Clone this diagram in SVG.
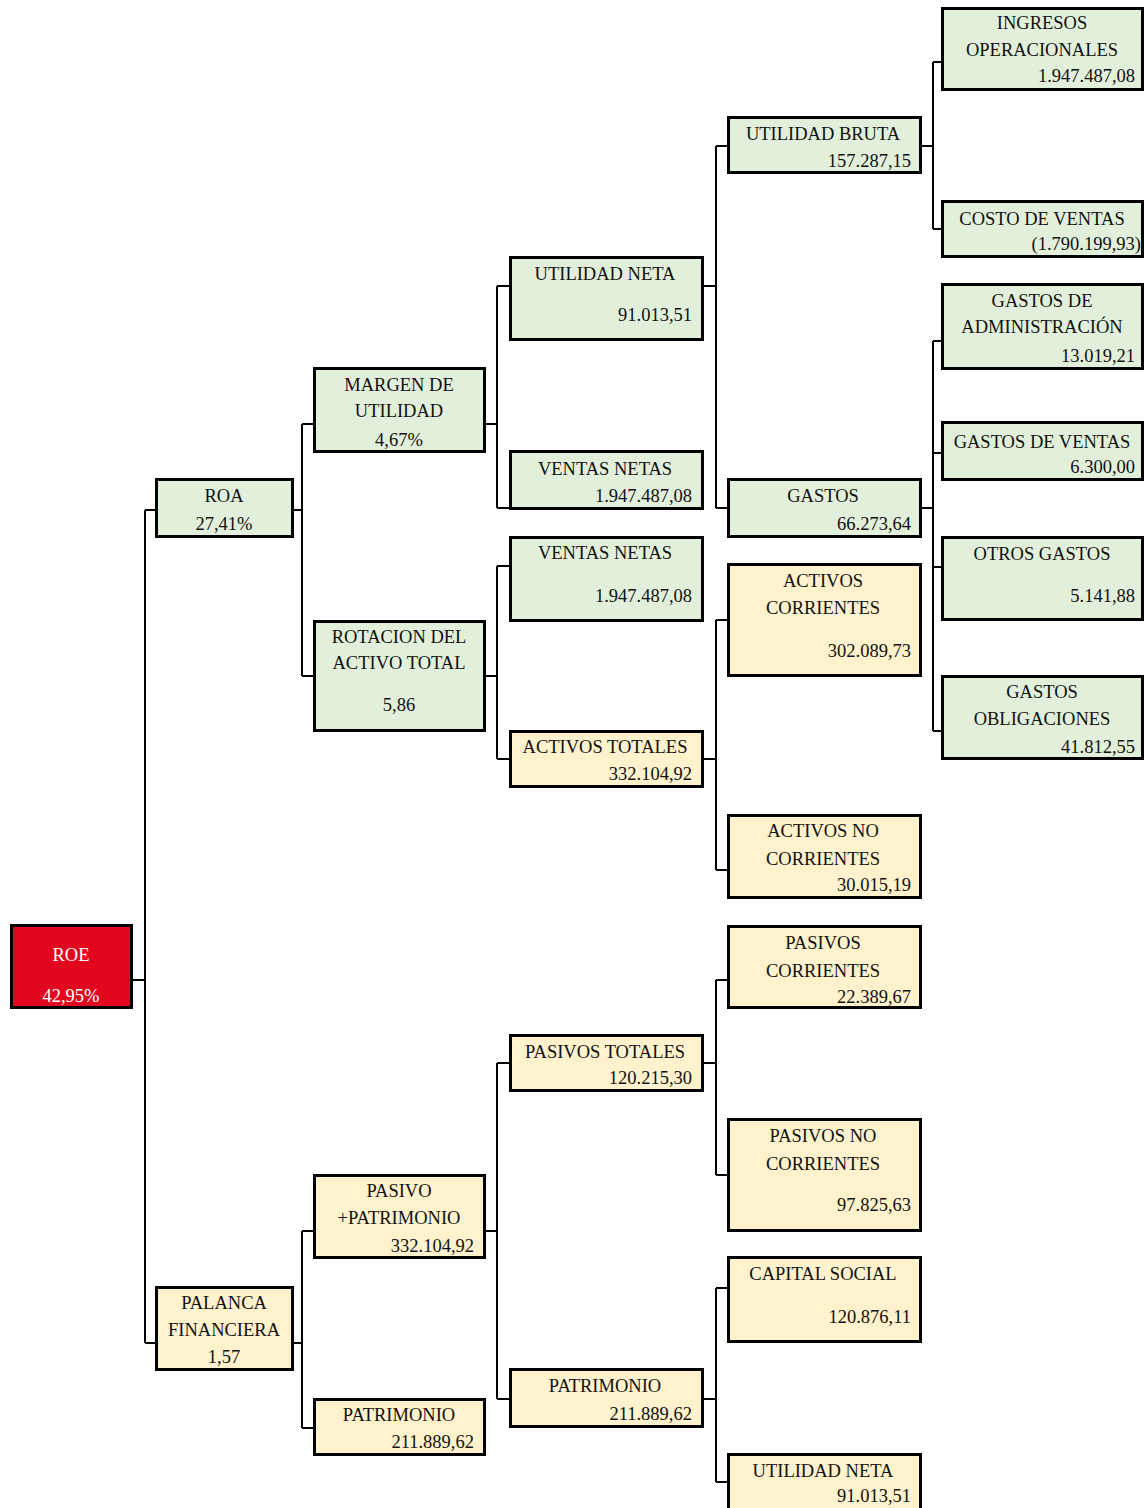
<svg xmlns="http://www.w3.org/2000/svg" width="1145" height="1508" viewBox="0 0 1145 1508">
<style>
.g{fill:#E2EFDA;stroke:#000;stroke-width:3}
.y{fill:#FFF2CC;stroke:#000;stroke-width:3}
.r{fill:#E2071F;stroke:#000;stroke-width:3}
text{font-family:"Liberation Serif","Times New Roman",serif;font-size:18.5px;fill:#111}
.c{text-anchor:middle}
.e{text-anchor:end}
.w{fill:#fff}
.ln{fill:none;stroke:#000;stroke-width:2}
</style>
<rect width="1145" height="1508" fill="#fff"/>
<g id="connectors" class="ln">
<path d="M133,980H145M145,510V1343M145,510H155M145,1343H155"/>
<path d="M294,510H302M302,424V676M302,424H313M302,676H313"/>
<path d="M486,424H497M497,286V508M497,286H509M497,508H509"/>
<path d="M486,676H497M497,566V759M497,566H509M497,759H509"/>
<path d="M704,286H716M716,146V508M716,146H727M716,508H727"/>
<path d="M704,759H716M716,620V870M716,620H727M716,870H727"/>
<path d="M922,146H933M933,62V229M933,62H941M933,229H941"/>
<path d="M922,508H933M933,341V731M933,341H941M933,453H941M933,567H941M933,731H941"/>
<path d="M294,1343H302M302,1231V1428M302,1231H313M302,1428H313"/>
<path d="M486,1231H497M497,1063V1399M497,1063H509M497,1399H509"/>
<path d="M704,1063H716M716,980V1175M716,980H727M716,1175H727"/>
<path d="M704,1399H716M716,1288V1482M716,1288H727M716,1482H727"/>
</g>
<g id="roe"><rect class="r" x="11.5" y="925.5" width="120" height="82"/><text class="c w" x="71" y="961">ROE</text><text class="c w" x="71" y="1002">42,95%</text></g>
<g id="roa"><rect class="g" x="156.5" y="479.5" width="136" height="57"/><text class="c" x="224" y="502">ROA</text><text class="c" x="224" y="530">27,41%</text></g>
<g id="palanca"><rect class="y" x="156.5" y="1287.5" width="136" height="82"/><text class="c" x="224" y="1309">PALANCA</text><text class="c" x="224" y="1336">FINANCIERA</text><text class="c" x="224" y="1363">1,57</text></g>
<g id="margen"><rect class="g" x="314.5" y="368.5" width="170" height="83"/><text class="c" x="399" y="391">MARGEN DE</text><text class="c" x="399" y="417">UTILIDAD</text><text class="c" x="399" y="446">4,67%</text></g>
<g id="rotacion"><rect class="g" x="314.5" y="621.5" width="170" height="109"/><text class="c" x="399" y="643">ROTACION DEL</text><text class="c" x="399" y="669">ACTIVO TOTAL</text><text class="c" x="399" y="711">5,86</text></g>
<g id="pasivo-patrimonio"><rect class="y" x="314.5" y="1175.5" width="170" height="82"/><text class="c" x="399" y="1197">PASIVO</text><text class="c" x="399" y="1224">+PATRIMONIO</text><text class="e" x="474" y="1252">332.104,92</text></g>
<g id="patrimonio-1"><rect class="y" x="314.5" y="1399.5" width="170" height="55"/><text class="c" x="399" y="1421">PATRIMONIO</text><text class="e" x="474" y="1448">211.889,62</text></g>
<g id="utilidad-neta-1"><rect class="g" x="510.5" y="257.5" width="192" height="82"/><text class="c" x="605" y="280">UTILIDAD NETA</text><text class="e" x="692" y="321">91.013,51</text></g>
<g id="ventas-netas-1"><rect class="g" x="510.5" y="451.5" width="192" height="57"/><text class="c" x="605" y="475">VENTAS NETAS</text><text class="e" x="692" y="502">1.947.487,08</text></g>
<g id="ventas-netas-2"><rect class="g" x="510.5" y="537.5" width="192" height="83"/><text class="c" x="605" y="559">VENTAS NETAS</text><text class="e" x="692" y="602">1.947.487,08</text></g>
<g id="activos-totales"><rect class="y" x="510.5" y="731.5" width="192" height="55"/><text class="c" x="605" y="753">ACTIVOS TOTALES</text><text class="e" x="692" y="780">332.104,92</text></g>
<g id="pasivos-totales"><rect class="y" x="510.5" y="1035.5" width="192" height="55"/><text class="c" x="605" y="1058">PASIVOS TOTALES</text><text class="e" x="692" y="1084">120.215,30</text></g>
<g id="patrimonio-2"><rect class="y" x="510.5" y="1369.5" width="192" height="57"/><text class="c" x="605" y="1392">PATRIMONIO</text><text class="e" x="692" y="1420">211.889,62</text></g>
<g id="utilidad-bruta"><rect class="g" x="728.5" y="117.5" width="192" height="55"/><text class="c" x="823" y="140">UTILIDAD BRUTA</text><text class="e" x="911" y="167">157.287,15</text></g>
<g id="gastos"><rect class="g" x="728.5" y="479.5" width="192" height="57"/><text class="c" x="823" y="502">GASTOS</text><text class="e" x="911" y="530">66.273,64</text></g>
<g id="activos-corrientes"><rect class="y" x="728.5" y="564.5" width="192" height="111"/><text class="c" x="823" y="587">ACTIVOS</text><text class="c" x="823" y="614">CORRIENTES</text><text class="e" x="911" y="657">302.089,73</text></g>
<g id="activos-no-corrientes"><rect class="y" x="728.5" y="815.5" width="192" height="82"/><text class="c" x="823" y="837">ACTIVOS NO</text><text class="c" x="823" y="865">CORRIENTES</text><text class="e" x="911" y="891">30.015,19</text></g>
<g id="pasivos-corrientes"><rect class="y" x="728.5" y="926.5" width="192" height="81"/><text class="c" x="823" y="949">PASIVOS</text><text class="c" x="823" y="977">CORRIENTES</text><text class="e" x="911" y="1003">22.389,67</text></g>
<g id="pasivos-no-corrientes"><rect class="y" x="728.5" y="1119.5" width="192" height="111"/><text class="c" x="823" y="1142">PASIVOS NO</text><text class="c" x="823" y="1170">CORRIENTES</text><text class="e" x="911" y="1211">97.825,63</text></g>
<g id="capital-social"><rect class="y" x="728.5" y="1257.5" width="192" height="84"/><text class="c" x="823" y="1280">CAPITAL SOCIAL</text><text class="e" x="911" y="1323">120.876,11</text></g>
<g id="utilidad-neta-2"><rect class="y" x="728.5" y="1454.5" width="192" height="60"/><text class="c" x="823" y="1477">UTILIDAD NETA</text><text class="e" x="911" y="1502">91.013,51</text></g>
<g id="ingresos-operacionales"><rect class="g" x="942.5" y="8.5" width="200" height="81"/><text class="c" x="1042" y="29">INGRESOS</text><text class="c" x="1042" y="56">OPERACIONALES</text><text class="e" x="1135" y="82">1.947.487,08</text></g>
<g id="costo-de-ventas"><rect class="g" x="942.5" y="201.5" width="200" height="55"/><text class="c" x="1042" y="225">COSTO DE VENTAS</text><text class="e" x="1141" y="250">(1.790.199,93)</text></g>
<g id="gastos-administracion"><rect class="g" x="942.5" y="284.5" width="200" height="84"/><text class="c" x="1042" y="307">GASTOS DE</text><text class="c" x="1042" y="333">ADMINISTRACIÓN</text><text class="e" x="1135" y="362">13.019,21</text></g>
<g id="gastos-ventas"><rect class="g" x="942.5" y="422.5" width="200" height="57"/><text class="c" x="1042" y="448">GASTOS DE VENTAS</text><text class="e" x="1135" y="473">6.300,00</text></g>
<g id="otros-gastos"><rect class="g" x="942.5" y="537.5" width="200" height="82"/><text class="c" x="1042" y="560">OTROS GASTOS</text><text class="e" x="1135" y="602">5.141,88</text></g>
<g id="gastos-obligaciones"><rect class="g" x="942.5" y="676.5" width="200" height="82"/><text class="c" x="1042" y="698">GASTOS</text><text class="c" x="1042" y="725">OBLIGACIONES</text><text class="e" x="1135" y="753">41.812,55</text></g>
</svg>
